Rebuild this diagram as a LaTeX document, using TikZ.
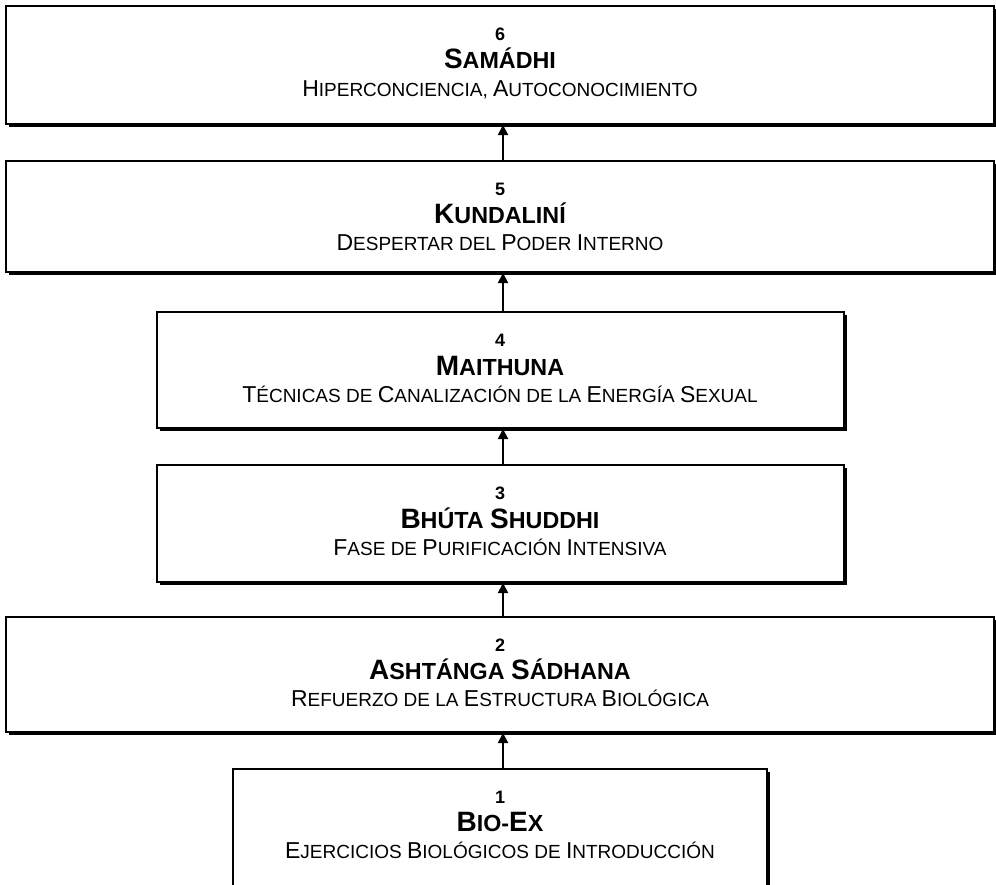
\documentclass[tikz,border=0pt]{standalone}
\usepackage{fontspec}
\setmainfont{Liberation Sans}
\usetikzlibrary{positioning, shadows, arrows.meta}

% fake small caps: big first letter, smaller rest
\newcommand{\numfont}{\bfseries\fontsize{18}{20}\selectfont}
\newcommand{\titlefont}{\bfseries\fontsize{23.3}{25}\selectfont}
\newcommand{\subfont}{\fontsize{19}{21}\selectfont}
\newcommand{\tsc}[2]{{\fontsize{28}{30}\selectfont #1}#2}
\newcommand{\ssc}[2]{{\fontsize{23}{25}\selectfont #1}#2}

\begin{document}
\begin{tikzpicture}[x=1pt, y=1pt]
    % Stage styles
    \tikzstyle{stagebox} = [rectangle, draw, line width=2pt, fill=white, drop shadow={shadow xshift=3pt, shadow yshift=-3pt, fill=black, opacity=1}, minimum width=988pt]
    \tikzstyle{stagenum} = [anchor=base, inner sep=0pt, font=\numfont]
    \tikzstyle{stagetitle} = [anchor=base, inner sep=0pt, font=\titlefont]
    \tikzstyle{stagesub} = [anchor=base, inner sep=0pt, font=\subfont]
    \tikzstyle{stagearrow} = [-{Triangle[length=10pt, width=10pt]}, line width=2pt]
    \path[use as bounding box, clip] (0,0) rectangle (996,-884);
    % Boxes, from top to bottom
    \node[stagebox, minimum height=118pt] (samadhi) at (500,-65) {};
    \node[stagebox, minimum height=111pt, below=35pt of samadhi] (kundalini) {};
    \node[stagebox, minimum height=116pt, minimum width=687pt, below=38pt of kundalini] (maithuna) {};
    \node[stagebox, minimum height=117pt, minimum width=687pt, below=35pt of maithuna] (bhuta) {};
    \node[stagebox, minimum height=115pt, below=33pt of bhuta] (ashtanga) {};
    \node[stagebox, minimum height=140pt, minimum width=534pt, below=35pt of ashtanga] (bioex) {};
    % Texts
    \node[stagenum] (samadhi-num) at ([yshift=-35pt]samadhi.north) {6};
    \node[stagetitle] (samadhi-title) at ([yshift=-63pt]samadhi.north) {\tsc{S}{AMÁDHI}};
    \node[stagesub] (samadhi-sub) at ([yshift=-91pt]samadhi.north) {\ssc{H}{IPERCONCIENCIA,} \ssc{A}{UTOCONOCIMIENTO}};
    \node[stagenum] (kundalini-num) at ([yshift=-35pt]kundalini.north) {5};
    \node[stagetitle] (kundalini-title) at ([yshift=-63pt]kundalini.north) {\tsc{K}{UNDALINÍ}};
    \node[stagesub] (kundalini-sub) at ([yshift=-90pt]kundalini.north) {\ssc{D}{ESPERTAR} DEL \ssc{P}{ODER} \ssc{I}{NTERNO}};
    \node[stagenum] (maithuna-num) at ([yshift=-35pt]maithuna.north) {4};
    \node[stagetitle] (maithuna-title) at ([yshift=-64pt]maithuna.north) {\tsc{M}{AITHUNA}};
    \node[stagesub] (maithuna-sub) at ([yshift=-91pt]maithuna.north) {\ssc{T}{ÉCNICAS} DE \ssc{C}{ANALIZACIÓN} DE LA \ssc{E}{NERGÍA} \ssc{S}{EXUAL}};
    \node[stagenum] (bhuta-num) at ([yshift=-35pt]bhuta.north) {3};
    \node[stagetitle] (bhuta-title) at ([yshift=-64pt]bhuta.north) {\tsc{B}{HÚTA} \tsc{S}{HUDDHI}};
    \node[stagesub] (bhuta-sub) at ([yshift=-91pt]bhuta.north) {\ssc{F}{ASE} DE \ssc{P}{URIFICACIÓN} \ssc{I}{NTENSIVA}};
    \node[stagenum] (ashtanga-num) at ([yshift=-35pt]ashtanga.north) {2};
    \node[stagetitle] (ashtanga-title) at ([yshift=-63pt]ashtanga.north) {\tsc{A}{SHTÁNGA} \tsc{S}{ÁDHANA}};
    \node[stagesub] (ashtanga-sub) at ([yshift=-90pt]ashtanga.north) {\ssc{R}{EFUERZO} DE LA \ssc{E}{STRUCTURA} \ssc{B}{IOLÓGICA}};
    \node[stagenum] (bioex-num) at ([yshift=-35pt]bioex.north) {1};
    \node[stagetitle] (bioex-title) at ([yshift=-63pt]bioex.north) {\tsc{B}{IO-}\tsc{E}{X}};
    \node[stagesub] (bioex-sub) at ([yshift=-90pt]bioex.north) {\ssc{E}{JERCICIOS} \ssc{B}{IOLÓGICOS} DE \ssc{I}{NTRODUCCIÓN}};
    % Connections
    \draw[stagearrow] ([xshift=3pt]kundalini.north) -- ([xshift=3pt]samadhi.south);
    \draw[stagearrow] ([xshift=3pt]maithuna.north) -- ([xshift=3pt]kundalini.south);
    \draw[stagearrow] ([xshift=3pt]bhuta.north) -- ([xshift=3pt]maithuna.south);
    \draw[stagearrow] ([xshift=3pt]ashtanga.north) -- ([xshift=3pt]bhuta.south);
    \draw[stagearrow] ([xshift=3pt]bioex.north) -- ([xshift=3pt]ashtanga.south);
\end{tikzpicture}
\end{document}
